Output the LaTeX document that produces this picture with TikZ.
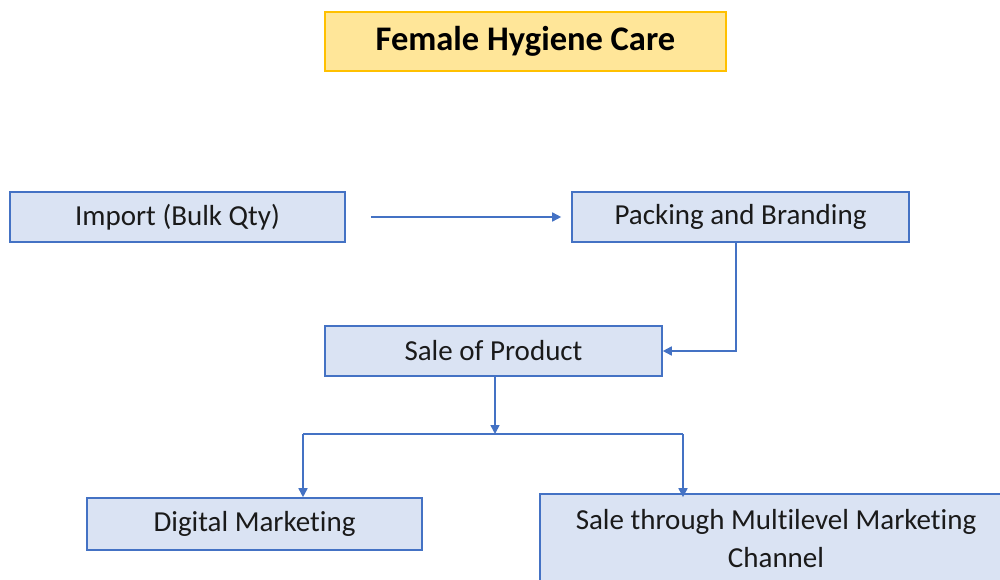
\documentclass[tikz,border=0pt]{standalone}
\usepackage{fontspec}
\setmainfont[Ligatures=NoCommon]{Carlito}
\usetikzlibrary{arrows.meta,calc}
\definecolor{boxfill}{HTML}{DAE3F3}
\definecolor{boxline}{HTML}{4472C4}
\definecolor{titlefill}{HTML}{FFE699}
\definecolor{titleline}{HTML}{FFC000}
\definecolor{txt}{HTML}{1A1A1A}
\tikzset{
  procbox/.style={draw=boxline, fill=boxfill, line width=1.6pt, inner sep=0pt,
    text=txt, font=\fontsize{29}{38}\selectfont, align=center},
  titlebox/.style={draw=titleline, fill=titlefill, line width=1.6pt, inner sep=0pt,
    text=black, font=\fontsize{34.5}{40}\selectfont\bfseries},
  conn/.style={draw=boxline, line width=1.6pt},
  arr/.style={conn, -{Triangle[length=9pt,width=9pt]}}
}
\begin{document}
\begin{tikzpicture}[x=1pt,y=-1pt]
\clip (0,0) rectangle (1000,580);
\fill[white] (0,0) rectangle (1000,580);
\node[titlebox, minimum width=401, minimum height=59] (title) at (525.5,41.5) {Female Hygiene Care};
\node[procbox, minimum width=335, minimum height=50] (imp) at (177.5,217) {\raisebox{-1.5pt}{Import (Bulk Qty)}};
\node[procbox, minimum width=337, minimum height=50] (pack) at (740.5,217) {\raisebox{-1.5pt}{Packing and Branding}};
\node[procbox, minimum width=337, minimum height=50] (sale) at (493.5,351) {\raisebox{-1.5pt}{Sale of Product}};
\node[procbox, minimum width=335, minimum height=52] (dig) at (254.5,524) {\raisebox{-1.5pt}{Digital Marketing}};
\node[procbox, minimum width=472, minimum height=90] (mlm) at (776,539) {Sale through Multilevel Marketing\\Channel};
\coordinate (hl) at (303,434);
\coordinate (hr) at (683,434);
\draw[arr] ([xshift=25]imp.east) -- ([xshift=-10]pack.west);
\draw[arr] ([xshift=-4.5]pack.south) |- (sale.east);
\draw[arr] ([xshift=1.5]sale.south) -- ([xshift=1.5]sale.south |- hl);
\draw[conn] (hl) -- (hr);
\draw[arr] (hl) -- (hl |- dig.north);
\draw[arr] (hr) -- ([yshift=-4]hr |- mlm.north);
\end{tikzpicture}
\end{document}
